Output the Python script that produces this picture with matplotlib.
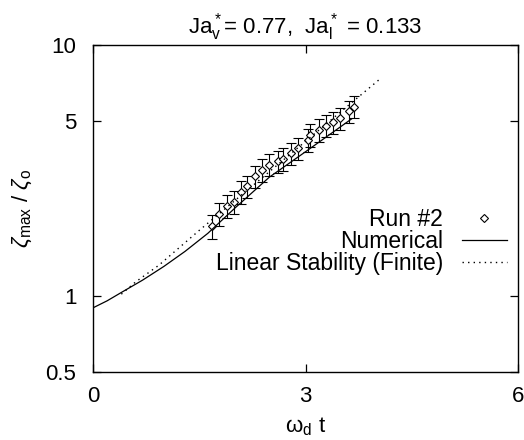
import matplotlib
matplotlib.use('Agg')
import matplotlib.pyplot as plt
from matplotlib.ticker import FixedLocator, NullLocator

plt.rcParams['font.family'] = ['Liberation Sans', 'DejaVu Sans']
plt.rcParams['mathtext.fontset'] = 'custom'
plt.rcParams['mathtext.rm'] = 'Liberation Sans'
plt.rcParams['mathtext.it'] = 'Liberation Sans:italic'

# Run #2 measurements
t_run = [1.68, 1.78, 1.89, 1.99, 2.09, 2.18, 2.29, 2.39, 2.48, 2.61, 2.68,
         2.79, 2.89, 3.03, 3.07, 3.19, 3.29, 3.39, 3.49, 3.62, 3.68]
amp_run = [1.90, 2.13, 2.29, 2.37, 2.60, 2.74, 3.00, 3.19, 3.34, 3.45, 3.52,
           3.71, 3.88, 4.19, 4.39, 4.60, 4.78, 4.92, 5.12, 5.44, 5.69]
err_run = [0.21, 0.22, 0.24, 0.25, 0.27, 0.28, 0.31, 0.33, 0.34, 0.35, 0.36,
           0.38, 0.40, 0.43, 0.45, 0.47, 0.49, 0.50, 0.52, 0.55, 0.57]

# numerical solution
t_num = [0.0, 0.2, 0.41, 0.70, 1.0, 1.3, 1.62, 2.0, 2.49, 3.0, 3.65]
amp_num = [0.90, 0.96, 1.04, 1.16, 1.315, 1.51, 1.78, 2.24, 2.98, 3.76, 5.08]

# linear stability (finite)
t_lin = [0.40, 0.60, 0.93, 1.5, 2.5, 3.5, 4.06]
amp_lin = [1.02, 1.14, 1.33, 1.83, 3.15, 5.43, 7.36]

fig = plt.figure(figsize=(5.24, 4.4), dpi=100)
ax = fig.add_axes([93 / 524, 1 - 372 / 440, 425 / 524, 327 / 440])

ax.errorbar(t_run, amp_run, yerr=err_run, fmt='none', ecolor='black',
            elinewidth=0.8, capsize=3.5, capthick=0.8)
ax.plot(t_run, amp_run, 'D', color='black', mfc='white', markersize=3.6,
        mew=0.8, label='Run #2')
ax.plot(t_num, amp_num, '-', color='black', linewidth=0.9, label='Numerical')
ax.plot(t_lin, amp_lin, color='black', linewidth=1.0, linestyle=(0, (1, 3)),
        label='Linear Stability (Finite)')

ax.set_yscale('log')
ax.set_xlim(0, 6)
ax.set_ylim(0.5, 10)
ax.xaxis.set_major_locator(FixedLocator([0, 3, 6]))
ax.yaxis.set_major_locator(FixedLocator([0.5, 1, 5, 10]))
ax.yaxis.set_minor_locator(NullLocator())
ax.set_xticklabels(['0', '3', '6'])
ax.set_yticklabels(['0.5', '1', '5', '10'])
ax.tick_params(direction='in', length=6, width=0.9, labelsize=16,
               top=True, right=True)
ax.tick_params(axis='x', pad=10)
ax.tick_params(axis='y', pad=12)
for s in ax.spines.values():
    s.set_linewidth(1.0)

ax.set_xlabel(r'$\mathrm{\omega}_{\rm d}$ t', fontsize=16, labelpad=6)
ax.set_ylabel(r'$\zeta_{\rm max}$ / $\zeta_{\rm o}$', fontsize=16, labelpad=8)
ax.set_title(r'Ja$^*_{\rm v}$= 0.77,  Ja$^*_{\rm l}$ = 0.133', fontsize=16, pad=8)

ax.legend(loc='center right', bbox_to_anchor=(0.975, 0.398), frameon=False,
          markerfirst=False, fontsize=16.5, handlelength=2.0, handletextpad=0.8,
          labelspacing=-0.05, borderpad=0, borderaxespad=0)

fig.savefig('out.png', dpi=100)
